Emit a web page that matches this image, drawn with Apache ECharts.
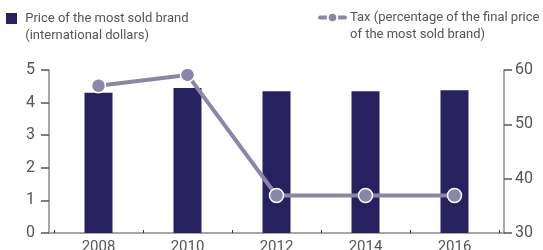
<!DOCTYPE html>
<html>
<head>
<meta charset="utf-8">
<script src="https://cdn.jsdelivr.net/npm/echarts@6/dist/echarts.min.js"></script>
<style>
    html, body { margin: 0; padding: 0; background: #fff; }
    #chart { width: 543px; height: 250px; }
</style>
</head>
<body>
<div id="chart"></div>
<script>
var years = ["2008", "2010", "2012", "2014", "2016"];
var priceValues = [4.3, 4.45, 4.35, 4.35, 4.38];
var taxValues = [57.1, 59.1, 36.9, 36.9, 36.9];
var priceTicks = [0, 5, 1];
var taxTicks = [30, 60, 10];

var priceName = "Price of the most sold brand\n(international dollars)";
var taxName = "Tax (percentage of the final price\nof the most sold brand)";

var barColor = "#27225f";
var lineColor = "#8b85a8";
var axisColor = "#8a8a8a";
var textColor = "#555555";

var myChart = echarts.init(document.getElementById('chart'));

// 图例文字：前面加一个空行，让图标对齐第一行
var legendText = {
    color: textColor,
    fontFamily: "Roboto",
    fontSize: 13,
    lineHeight: 17
};

function legendFormat(name) {
    return "\n" + name;
}

var option = {
    animation: false,
    legend: [{
        data: [priceName],
        left: 6,
        top: -7,
        padding: 0,
        itemWidth: 11,
        itemHeight: 11,
        icon: 'rect',
        formatter: function (name) {
            // 图标和文字之间留得宽一点
            return "\n " + name.replace("\n", "\n ");
        },
        textStyle: legendText
    }, {
        data: [taxName],
        left: 318,
        top: -8,
        padding: 0,
        itemWidth: 25,
        itemHeight: 12,
        lineStyle: {width: 4, cap: 'round'},
        formatter: legendFormat,
        textStyle: legendText
    }],
    grid: [{
        left: 54,
        right: 44,
        top: 70,
        bottom: 17,
        outerBoundsMode: 'none'
    }, {
        left: 49,
        right: 39,
        top: 70,
        bottom: 17,
        outerBoundsMode: 'none'
    }],
    xAxis: [{
        type: 'category',
        data: years,
        gridIndex: 0,
        axisLine: {show: false},
        axisTick: {show: true, inside: true, length: 3, lineStyle: {color: '#333'}},
        axisLabel: {color: textColor, fontFamily: "Roboto", fontSize: 15, margin: 7}
    }, {
        // 底部基线，与两侧 y 轴相接
        type: 'value',
        gridIndex: 1,
        min: 0,
        max: 1,
        axisLine: {show: true, lineStyle: {color: axisColor, width: 1.5}},
        axisTick: {show: false},
        axisLabel: {show: false},
        splitLine: {show: false}
    }],
    yAxis: [{
        type: 'value',
        gridIndex: 0,
        min: priceTicks[0],
        max: priceTicks[1],
        interval: priceTicks[2],
        offset: 5,
        axisLine: {show: true, lineStyle: {color: axisColor, width: 1.5}},
        axisTick: {show: true, length: 8, lineStyle: {color: '#555', width: 1.5}},
        axisLabel: {color: textColor, fontFamily: "Roboto", fontSize: 16, margin: 14},
        splitLine: {show: false}
    }, {
        type: 'value',
        gridIndex: 0,
        position: 'right',
        min: taxTicks[0],
        max: taxTicks[1],
        interval: taxTicks[2],
        offset: 5,
        axisLine: {show: true, lineStyle: {color: axisColor, width: 1.5}},
        axisTick: {show: true, length: 8, lineStyle: {color: '#555', width: 1.5}},
        axisLabel: {color: textColor, fontFamily: "Roboto", fontSize: 16, margin: 11},
        splitLine: {show: false}
    }, {
        type: 'value',
        gridIndex: 1,
        min: 0,
        max: 1,
        show: false
    }],
    series: [{
        name: priceName,
        type: 'bar',
        xAxisIndex: 0,
        yAxisIndex: 0,
        data: priceValues,
        barWidth: 28,
        itemStyle: {color: barColor}
    }, {
        name: taxName,
        type: 'line',
        xAxisIndex: 0,
        yAxisIndex: 1,
        data: taxValues,
        symbol: 'circle',
        symbolSize: 14,
        lineStyle: {color: lineColor, width: 4},
        itemStyle: {color: lineColor, borderColor: '#fff', borderWidth: 1.5}
    }]
};

myChart.setOption(option);
</script>
</body>
</html>
